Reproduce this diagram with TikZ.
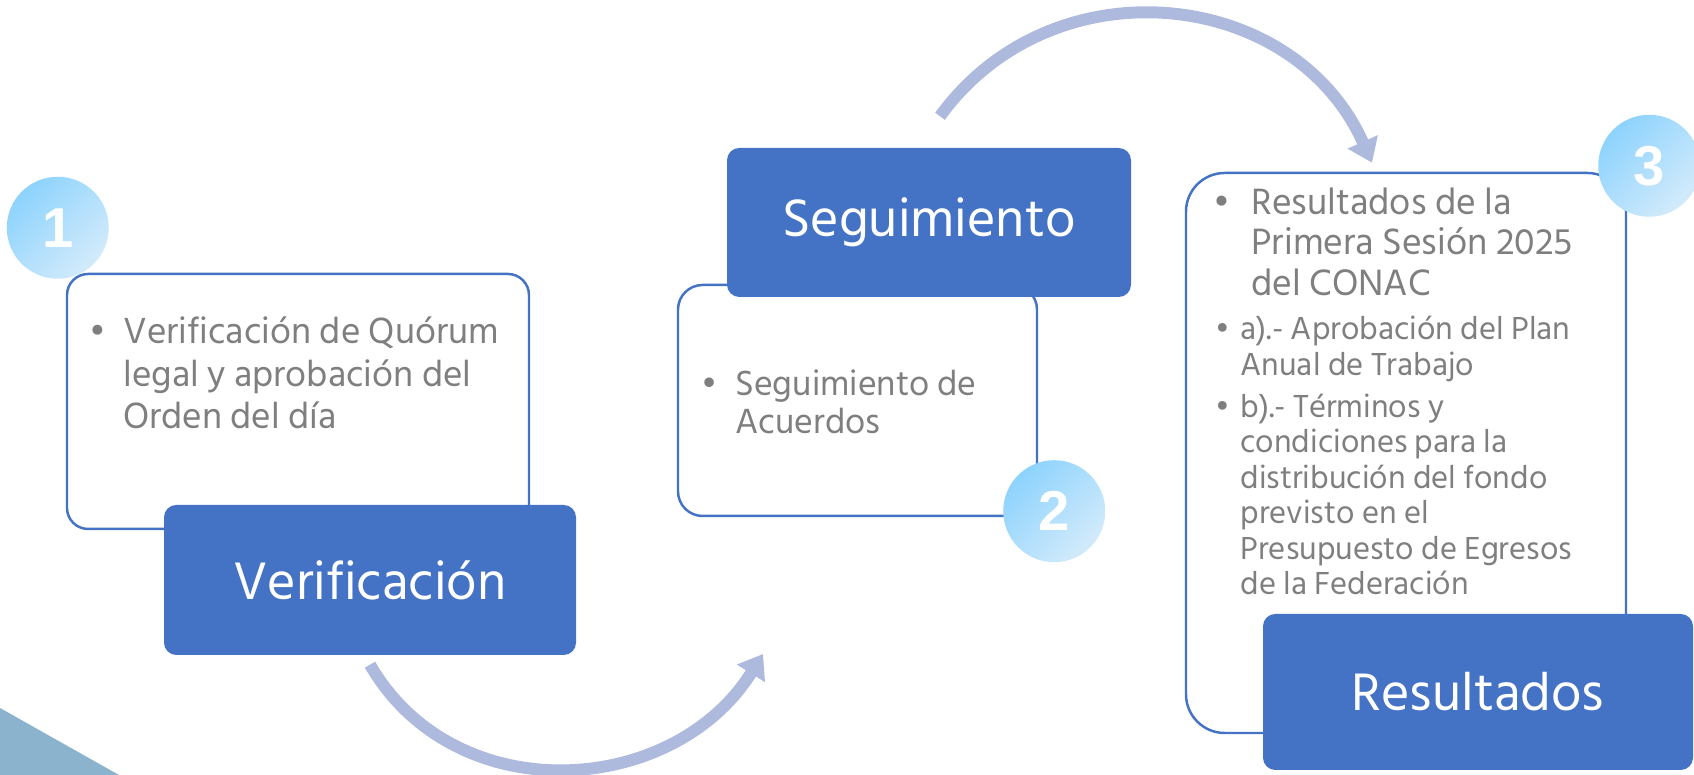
\documentclass[tikz,border=0pt]{standalone}
\usepackage{fontspec}
\setmainfont{Hind Siliguri}
\newfontfamily\digitfont{Liberation Sans}
\usetikzlibrary{positioning,arrows.meta,calc}

\definecolor{boxblue}{HTML}{4472C4}
\definecolor{flowblue}{HTML}{ADBADD}
\definecolor{dotlight}{HTML}{D3EBFB}
\definecolor{dotdark}{HTML}{8DD3FD}
\definecolor{itemgray}{HTML}{7F7F7F}
\definecolor{cornerblue}{HTML}{8CB3CE}

\begin{document}
\begin{tikzpicture}[
headbox/.style={
  fill=boxblue,
  rounded corners=3.5pt,
  text=white,
  font=\fontsize{15.4}{18}\selectfont,
  inner sep=0pt
},
listbox/.style={
  draw=boxblue,
  fill=white,
  line width=0.7pt,
  rounded corners=6pt,
  inner sep=0pt
},
itemtext/.style={
  text=itemgray,
  align=left,
  inner sep=0pt,
  anchor=base west
},
numdot/.style={
  circle,
  minimum size=1.02cm,
  top color=dotdark,
  bottom color=dotlight,
  shading angle=45,
  text=white,
  font=\digitfont\bfseries\fontsize{16}{18}\selectfont,
  inner sep=0pt
},
flow/.style={
  draw=flowblue,
  line width=3.4pt,
  -{Triangle[width=9pt,length=6.5pt]}
}
]
\useasboundingbox (0,0) rectangle (16.94,7.75);
\fill[cornerblue] (0,0) -- (0,0.67) -- (1.19,0) -- cycle;

% paso 1
\node[listbox, minimum width=4.62cm, minimum height=2.55cm]
  (quorum) at (2.98,3.735) {};
\node[headbox, minimum width=4.12cm, minimum height=1.50cm]
  (verif) at (3.70,1.95) {Verificación};
\node[itemtext, font=\fontsize{10.6}{12.1}\selectfont]
  (quorumtxt) at ($(quorum.north west)+(0.57,-1.56)$)
  {\llap{\textbullet\hspace{5pt}}Verificación de Quórum\\legal y aprobación del\\Orden del día};
\node[numdot] (n1) at ($(quorum.north west)+(-0.08,0.45)$) {1};

% paso 2
\node[listbox, rounded corners=7pt, minimum width=3.59cm, minimum height=2.31cm]
  (acuerdos) at (8.575,3.745) {};
\node[headbox, minimum width=4.04cm, minimum height=1.49cm]
  (segui) at (9.29,5.525) {Seguimiento};
\node[itemtext, font=\fontsize{10.2}{11}\selectfont]
  (acuerdostxt) at ($(acuerdos.north west)+(0.58,-1.50)$)
  {\llap{\textbullet\hspace{5pt}}Seguimiento de\\Acuerdos};
\node[numdot] (n2) at ($(acuerdos.south east)+(0.16,0.06)$) {2};

% paso 3
\node[listbox, rounded corners=11pt, minimum width=4.40cm, minimum height=5.60cm]
  (sesion) at (14.06,3.22) {};
\node[headbox, minimum width=4.30cm, minimum height=1.56cm]
  (result) at (14.78,0.83) {Resultados};
\node[itemtext, font=\fontsize{10.7}{11.6}\selectfont]
  (sesiontxt) at ($(sesion.north west)+(0.66,-1.24)$)
  {\llap{\textbullet\hspace{6pt}}Resultados de la\\Primera Sesión 2025\\del CONAC};
\node[itemtext, font=\fontsize{9.3}{10.4}\selectfont]
  (plantxt) at ($(sesion.north west)+(0.55,-2.04)$)
  {\llap{\textbullet\hspace{3pt}}a).- Aprobación del Plan\\Anual de Trabajo};
\node[itemtext, font=\fontsize{9.3}{10.1}\selectfont]
  (fondotxt) at ($(sesion.north west)+(0.55,-4.23)$)
  {\llap{\textbullet\hspace{3pt}}b).- Términos y\\condiciones para la\\distribución del fondo\\previsto en el\\Presupuesto de Egresos\\de la Federación};
\node[numdot] (n3) at ($(sesion.north east)+(0.22,0.06)$) {3};

% flechas
\coordinate (haciaseg) at (7.63,1.21);
\draw[flow] ([yshift=-0.09cm]verif.south) to[out=-60,in=-122,looseness=1.1] (haciaseg);
\draw[flow] ([shift={(0.11,0.31)}]segui.north) to[out=54,in=114,looseness=1.13]
  ([shift={(-0.34,0.09)}]sesion.north);
\end{tikzpicture}
\end{document}
